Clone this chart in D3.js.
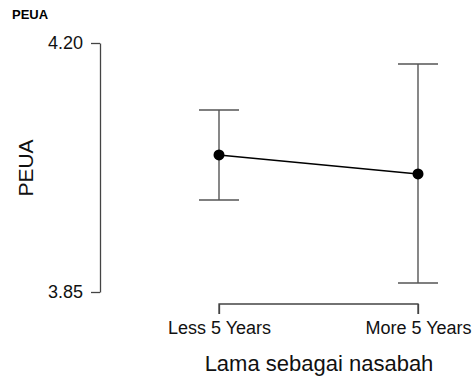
<!DOCTYPE html>
<html>
<head>
<meta charset="utf-8">
<script src="https://cdn.jsdelivr.net/npm/d3@7.9.0/dist/d3.min.js"></script>
<style>
  body { margin: 0; background: #fff; }
  text { font-family: "Liberation Sans", Arial, sans-serif; }
</style>
</head>
<body>
<svg width="473" height="376"></svg>
<script>
// data
const groups = ['Less 5 Years', 'More 5 Years'];
const means = [4.0426, 4.0159];
const lower = [3.9793, 3.8626];
const upper = [4.1058, 4.1705];
const yTicks = [3.85, 4.20];

const svg = d3.select('svg');

const x = d3.scalePoint().domain(groups).range([219, 418]);
const y = d3.scaleLinear().domain([3.85, 4.20]).range([292, 43]);

// plot title
svg.append('text')
  .attr('x', 12).attr('y', 19)
  .attr('font-size', 13).attr('font-weight', 'bold')
  .text('PEUA');

// y axis
const yAxis = svg.append('g')
  .attr('transform', 'translate(100,0)')
  .call(d3.axisLeft(y).tickValues(yTicks).tickFormat(d3.format('.2f')).tickSize(9).tickSizeOuter(0));
yAxis.select('.domain').attr('stroke', '#444').attr('stroke-width', 1.3);
yAxis.selectAll('.tick line').attr('stroke', '#444').attr('stroke-width', 1.3);
yAxis.selectAll('.tick text')
  .attr('font-size', 18).attr('fill', '#111').attr('x', -17)
  .attr('font-family', '"Liberation Sans", Arial, sans-serif');

// x axis (bracket style)
const xAxis = svg.append('g')
  .attr('transform', 'translate(0,304)')
  .call(d3.axisBottom(x).tickSize(10).tickSizeOuter(0));
xAxis.select('.domain').attr('stroke', '#444').attr('stroke-width', 1.3);
xAxis.selectAll('.tick line').attr('stroke', '#444').attr('stroke-width', 1.3);
xAxis.selectAll('.tick text')
  .attr('font-size', 18).attr('fill', '#111').attr('y', 17)
  .attr('font-family', '"Liberation Sans", Arial, sans-serif');
xAxis.select('.domain').attr('d', `M${x(groups[0])},10V0H${x(groups[1])}V10`);

// axis titles
svg.append('text')
  .attr('transform', 'translate(33,168) rotate(-90)')
  .attr('text-anchor', 'middle')
  .attr('font-size', 21).attr('fill', '#111')
  .text('PEUA');

svg.append('text')
  .attr('x', 319).attr('y', 371)
  .attr('text-anchor', 'middle')
  .attr('font-size', 22).attr('fill', '#111')
  .text('Lama sebagai nasabah');

// error bars
const bars = svg.append('g').attr('stroke', '#555').attr('stroke-width', 1.4);
groups.forEach((g, i) => {
  bars.append('line')
    .attr('x1', x(g)).attr('x2', x(g))
    .attr('y1', y(lower[i])).attr('y2', y(upper[i]));
  [lower[i], upper[i]].forEach(v => {
    bars.append('line')
      .attr('x1', x(g) - 20).attr('x2', x(g) + 20)
      .attr('y1', y(v)).attr('y2', y(v));
  });
});

// connecting line
svg.append('path')
  .datum(means)
  .attr('fill', 'none').attr('stroke', '#000').attr('stroke-width', 1.6)
  .attr('d', d3.line().x((d, i) => x(groups[i])).y(d => y(d)));

// points
svg.selectAll('circle.pt')
  .data(means)
  .join('circle')
  .attr('class', 'pt')
  .attr('cx', (d, i) => x(groups[i]))
  .attr('cy', d => y(d))
  .attr('r', 5.5)
  .attr('fill', '#000');
</script>
</body>
</html>
